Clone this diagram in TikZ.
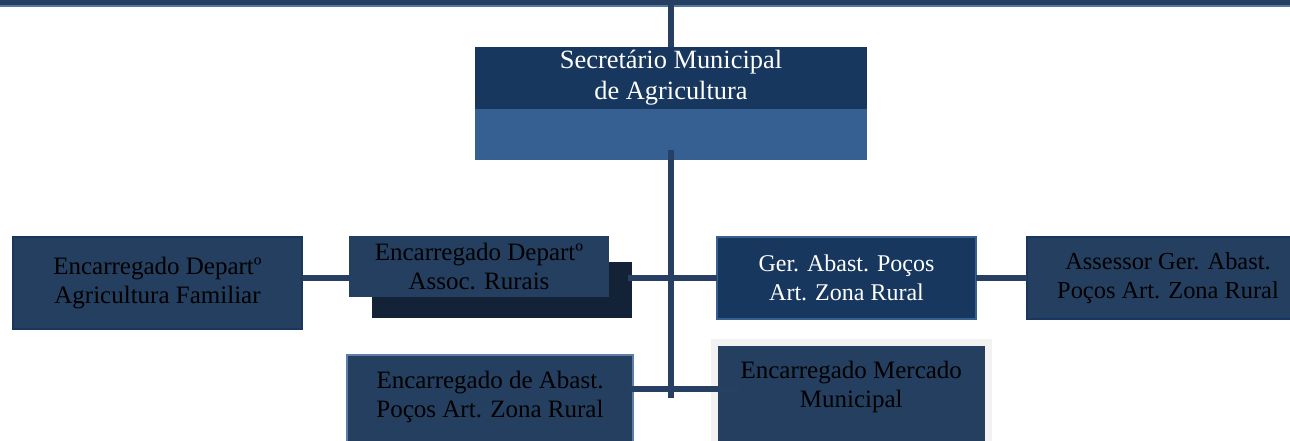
\documentclass[tikz,border=0pt]{standalone}
\usepackage{fontspec}
\setmainfont{Liberation Serif}
\definecolor{bardark}{HTML}{243F60}
\definecolor{barlight}{HTML}{5577A3}
\definecolor{secdark}{HTML}{17375E}
\definecolor{secmid}{HTML}{366092}
\definecolor{boxfill}{HTML}{243F60}
\definecolor{shadowfill}{HTML}{142238}
\definecolor{linecol}{HTML}{263F63}
\definecolor{framegray}{HTML}{F2F2F2}
\tikzset{
  cargo/.style={rectangle, fill=boxfill, align=center, outer sep=0pt,
    font=\fontsize{12.5}{14.5}\selectfont},
  linha/.style={draw=linecol, line width=2.75pt}
}
\begin{document}
\begin{tikzpicture}[x=0.5pt, y=-0.5pt]
  \useasboundingbox (0,0) rectangle (1290,440);
  % Header
  \fill[bardark] (0,0) rectangle (1290,4.5);
  \fill[barlight] (0,4.5) rectangle (1290,6.5);
  % Nodes
  \node (sec) [cargo, fill=secdark, text=white, font=\fontsize{13.2}{15.5}\selectfont, inner ysep=0pt, minimum width=196pt, minimum height=31pt] at (671,78) {Secretário Municipal\\de Agricultura};
  \node (secbase) [cargo, fill=secmid, minimum width=196pt, minimum height=25.5pt, anchor=north] at (sec.south) {};
  \node (agri) [cargo, draw=secdark, line width=0.8pt, minimum width=144.5pt, minimum height=46pt] at (157.5,283) {Encarregado Departº\\Agricultura Familiar};
  \node (assocsombra) [cargo, fill=shadowfill, minimum width=130pt, minimum height=28pt] at (502,290) {};
  \node (assoc) [cargo, minimum width=130pt, minimum height=27.5pt] at (479,266.5) {Encarregado Departº\\Assoc. Rurais};
  \node (ger) [cargo, fill=secdark, draw=secmid, line width=1pt, text=white, font=\fontsize{12}{14.5}\selectfont, minimum width=129.5pt, minimum height=41pt] at (846.5,278) {Ger. Abast. Poços\\Art. Zona Rural};
  \node (assessor) [cargo, draw=secdark, line width=0.8pt, font=\fontsize{12.2}{14.5}\selectfont, minimum width=141pt, minimum height=41pt] at (1168,278) {Assessor Ger. Abast.\\Poços Art. Zona Rural};
  \node (abast) [cargo, draw=secmid!80!white, line width=1pt, minimum width=143pt, inner ysep=0pt, text height=31pt, text depth=16.5pt, anchor=north] at (490,355) {Encarregado de Abast.\\Poços Art. Zona Rural};
  \node (mercado) [cargo, draw=framegray, line width=3.5pt, minimum width=136.75pt, inner ysep=0pt, text height=32.25pt, text depth=26.5pt, anchor=north] at (851.25,342.5) {Encarregado Mercado\\Municipal};
  \coordinate (topo) at (671,0);
  \coordinate (juncao) at (671,389);
  \coordinate (base) at (671,398);
  % Lines
  \draw[linha] (agri.east |- ger.west) -- (assoc.west |- ger.west);
  \draw[linha, shorten <=-2pt] (assocsombra.east |- ger.west) -- (ger.west);
  \draw[linha] (ger.east) -- (assessor.west);
  \draw[linha, shorten <=-2pt, shorten >=-12pt] (abast.east |- juncao) -- (mercado.west |- juncao);
  \draw[linha] (topo) -- (sec.north);
  \draw[linha, shorten <=-5pt] (secbase.south) -- (base);
\end{tikzpicture}
\end{document}
